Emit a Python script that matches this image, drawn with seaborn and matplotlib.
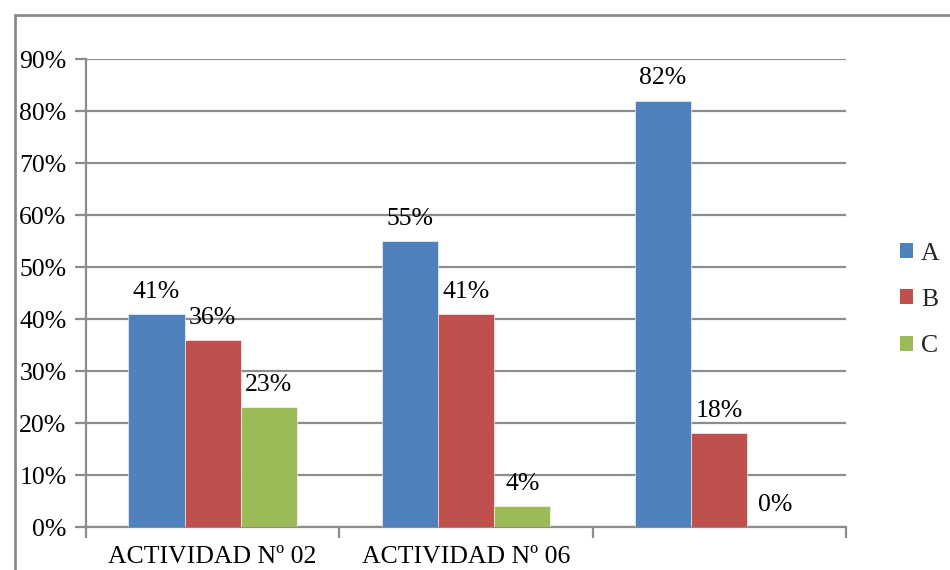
import matplotlib
matplotlib.use("Agg")
import matplotlib.pyplot as plt
from matplotlib.patches import Rectangle, Patch
from matplotlib.ticker import FuncFormatter, FixedLocator
import seaborn as sns
import pandas as pd

categories = ["ACTIVIDAD Nº 02", "ACTIVIDAD Nº 06", ""]
series = ["A", "B", "C"]
values_A = [0.41, 0.55, 0.82]
values_B = [0.36, 0.41, 0.18]
values_C = [0.23, 0.04, 0.00]
colors = ["#4F81BD", "#C0504D", "#9BBB59"]
yticks = [0.0, 0.1, 0.2, 0.3, 0.4, 0.5, 0.6, 0.7, 0.8, 0.9]

rows = []
for s, vals in zip(series, [values_A, values_B, values_C]):
    for c, v in zip(categories, vals):
        rows.append({"cat": c, "serie": s, "val": v})
df = pd.DataFrame(rows)

sns.set_theme(style="white")
plt.rcParams["font.family"] = ["Liberation Serif", "DejaVu Serif"]
FS = 18.5

fig = plt.figure(figsize=(9.5, 5.7), dpi=100)
ax = fig.add_axes([86/950, 43/570, 760/950, 468/570])

# outer chart border
fig.patches.append(Rectangle((15/950, -0.1), 1.2, (570-15)/570 + 0.1,
                             transform=fig.transFigure, fill=False,
                             edgecolor="#8C8C8C", linewidth=2, zorder=0))

sns.barplot(data=df, x="cat", y="val", hue="serie", order=categories,
            hue_order=series, palette=colors, width=0.667, ax=ax,
            saturation=1, edgecolor="white", linewidth=0.4, legend=False, zorder=3)

for cont in ax.containers:
    ax.bar_label(cont, labels=[f"{v*100:.0f}%" for v in cont.datavalues],
                 padding=8, fontsize=FS, color="black")

ax.set_ylim(0, 0.9)
ax.set_xlim(-0.5, 2.5)
ax.yaxis.set_major_locator(FixedLocator(yticks))
ax.yaxis.set_major_formatter(FuncFormatter(lambda v, p: f"{v*100:.0f}%"))
ax.grid(axis="y", color="#8C8C8C", linewidth=1.6, zorder=0)
ax.set_axisbelow(True)
for s in ["top", "right"]:
    ax.spines[s].set_visible(False)
for s in ["left", "bottom"]:
    ax.spines[s].set_color("#8C8C8C")
    ax.spines[s].set_linewidth(1.6)
ax.tick_params(axis="y", which="major", left=True, length=8, width=1.6,
               color="#8C8C8C", labelsize=FS, pad=6, labelcolor="black")
ax.set_xticks(range(len(categories)))
ax.set_xticklabels(categories)
ax.set_xticks([-0.5, 0.5, 1.5, 2.5], minor=True)
ax.tick_params(axis="x", which="major", length=0, labelsize=FS, pad=14, labelcolor="black")
ax.tick_params(axis="x", which="minor", bottom=True, length=8, width=1.6, color="#8C8C8C")
ax.set_xlabel("")
ax.set_ylabel("")

handles = [Patch(facecolor=c, edgecolor="none") for c in colors]
fig.legend(handles, series, loc="center left", bbox_to_anchor=(900/950, 1 - 300/570),
           frameon=False, fontsize=FS, handlelength=0.52, handleheight=0.52,
           handletextpad=0.3, labelspacing=0.95, borderaxespad=0, borderpad=0)

fig.savefig("out.png", dpi=100)
